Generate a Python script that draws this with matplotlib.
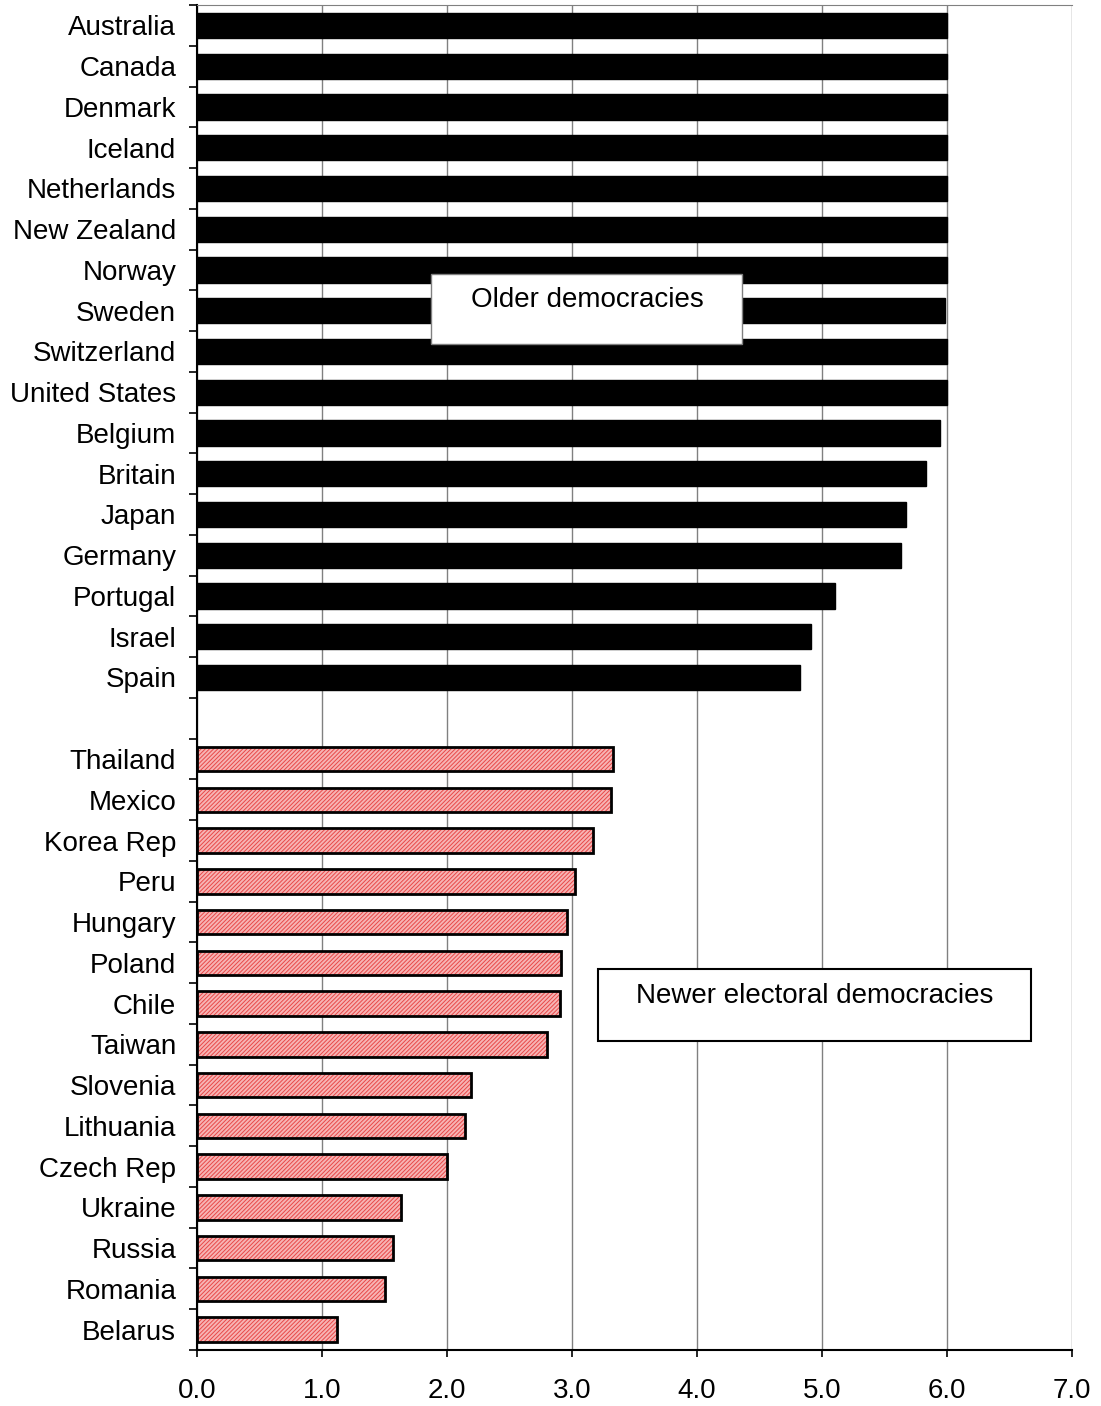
import matplotlib.pyplot as plt
from matplotlib.patches import Rectangle

older = ['Australia', 'Canada', 'Denmark', 'Iceland', 'Netherlands', 'New Zealand',
         'Norway', 'Sweden', 'Switzerland', 'United States', 'Belgium', 'Britain',
         'Japan', 'Germany', 'Portugal', 'Israel', 'Spain']
older_vals = [6.0, 6.0, 6.0, 6.0, 6.0, 6.0, 6.0, 5.98, 6.0, 6.0, 5.94, 5.83,
              5.67, 5.63, 5.10, 4.91, 4.82]

newer = ['Thailand', 'Mexico', 'Korea Rep', 'Peru', 'Hungary', 'Poland', 'Chile',
         'Taiwan', 'Slovenia', 'Lithuania', 'Czech Rep', 'Ukraine', 'Russia',
         'Romania', 'Belarus']
newer_vals = [3.33, 3.31, 3.17, 3.02, 2.96, 2.91, 2.90, 2.80, 2.19, 2.14, 2.00,
              1.63, 1.57, 1.50, 1.12]

xticks = [0, 1, 2, 3, 4, 5, 6, 7]

plt.rcParams['font.family'] = ['Liberation Sans', 'DejaVu Sans']
plt.rcParams['hatch.linewidth'] = 0.7

fig = plt.figure(figsize=(11.01, 14.06), dpi=100)
ax = fig.add_axes([197/1101, 1 - 1350/1406, (1072-197)/1101, (1350-5)/1406])

y_old = list(range(len(older)))
y_new = [len(older) + 1 + i for i in range(len(newer))]
nrows = len(older) + 1 + len(newer)

ax.set_axisbelow(True)
ax.grid(axis='x', color='#808080', linewidth=1)

ax.barh(y_old, older_vals, height=0.62, color='black', edgecolor='black', zorder=2)
# hatched red fill, then black outline on top
ax.barh(y_new, newer_vals, height=0.6, color='#f7b4b4', edgecolor='#e84848',
        hatch='////////', linewidth=0, zorder=2)
ax.barh(y_new, newer_vals, height=0.6, fill=False, edgecolor='black',
        linewidth=2, zorder=3)

ax.set_xlim(0, 7)
ax.set_ylim(nrows - 0.5, -0.5)
ax.set_xticks(xticks)
ax.set_xticklabels(['%.1f' % v for v in xticks], fontsize=20)
ax.set_yticks(y_old + y_new)
ax.set_yticklabels(older + newer, fontsize=20)
ax.set_yticks([i - 0.5 for i in range(nrows + 1)], minor=True)
ax.tick_params(axis='y', which='major', length=0, pad=15)
ax.tick_params(axis='y', which='minor', length=6, width=1.2)
ax.tick_params(axis='x', length=5, width=1.2, pad=15)

ax.spines['right'].set_visible(False)
ax.spines['top'].set_color('#808080')
ax.spines['left'].set_linewidth(1.5)
ax.spines['bottom'].set_linewidth(1.5)

# label boxes
ax.add_patch(Rectangle((1.872, 6.1), 4.36 - 1.872, 1.72, facecolor='white',
                       edgecolor='#808080', linewidth=1, zorder=4))
ax.text(3.12, 6.74, 'Older democracies', fontsize=20, ha='center', va='center', zorder=5)
ax.add_patch(Rectangle((3.208, 23.15), 6.672 - 3.208, 1.77, facecolor='white',
                       edgecolor='black', linewidth=1.5, zorder=4))
ax.text(4.94, 23.81, 'Newer electoral democracies', fontsize=20, ha='center',
        va='center', zorder=5)

fig.savefig('out.png', dpi=100)
